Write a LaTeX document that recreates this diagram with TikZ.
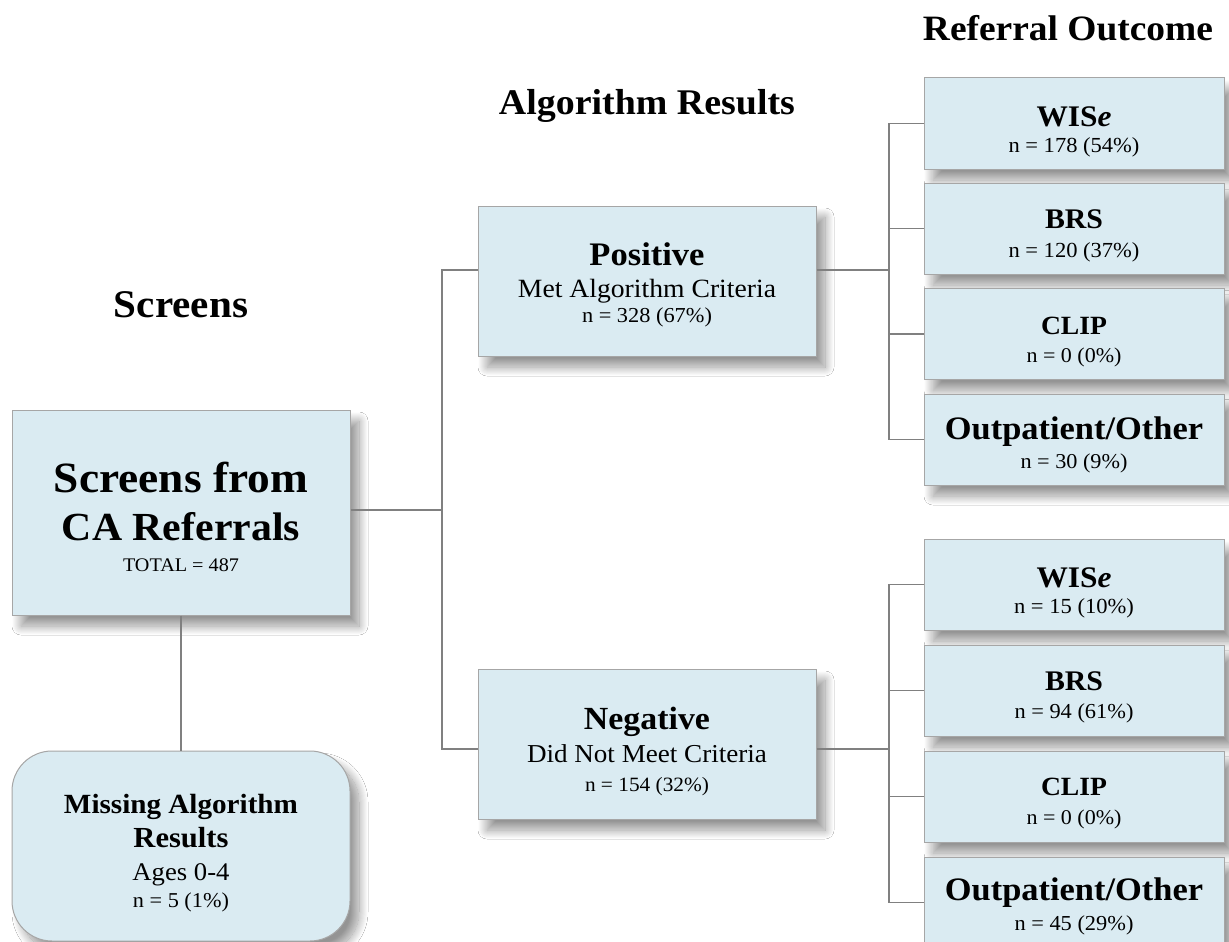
\documentclass[tikz,border=0pt]{standalone}
\usepackage{fontspec}
\setmainfont{Liberation Serif}[FakeStretch=1.05]
\usepackage{graphicx}
\usetikzlibrary{shadows.blur}
\definecolor{boxfill}{HTML}{DAEBF2}
\definecolor{boxline}{HTML}{A6A6A6}
\definecolor{connline}{HTML}{808080}
\newcommand\tx[2]{\resizebox{#1pt}{!}{#2}}
\begin{document}
\begin{tikzpicture}[x=1pt,y=-1pt,
  box/.style={draw=boxline, line width=1pt, fill=boxfill, inner sep=0pt,
    blur shadow={shadow xshift=9pt, shadow yshift=-11pt, shadow blur radius=9pt, shadow blur steps=18, shadow opacity=42}},
  conn/.style={draw=connline, line width=1.2pt},
  txt/.style={anchor=base, inner sep=0pt}]
\useasboundingbox (0,0) rectangle (1229,942);
\fill[white] (0,0) rectangle (1229,942);

% boxes
\node[box, minimum width=338pt, minimum height=205pt] (scr) at (181,512.5) {};
\node[box, rounded corners=40pt, minimum width=338pt, minimum height=190pt] (miss) at (181,846) {};
\node[box, minimum width=338pt, minimum height=150pt] (pos) at (647,281) {};
\node[box, minimum width=338pt, minimum height=150pt] (neg) at (647,744) {};
\node[box, minimum width=300pt, minimum height=91pt] (w1) at (1074,123.5) {};
\node[box, minimum width=300pt, minimum height=91pt] (b1) at (1074,228.5) {};
\node[box, minimum width=300pt, minimum height=91pt] (c1) at (1074,334) {};
\node[box, minimum width=300pt, minimum height=91pt] (o1) at (1074,439.5) {};
\node[box, minimum width=300pt, minimum height=91pt] (w2) at (1074,584.5) {};
\node[box, minimum width=300pt, minimum height=91pt] (b2) at (1074,690.5) {};
\node[box, minimum width=300pt, minimum height=91pt] (c2) at (1074,796.5) {};
\node[box, minimum width=300pt, minimum height=91pt] (o2) at (1074,902.5) {};

% junctions
\coordinate (j1) at (442,510);
\coordinate (j2) at (889,270);
\coordinate (j3) at (889,749);

% connectors
\draw[conn] (scr.east |- j1) -- (j1);
\draw[conn] ([yshift=11pt]pos.west) -| (j1) |- ([yshift=-5pt]neg.west);
\draw[conn] (scr.south) -- (miss.north);
\draw[conn] ([yshift=11pt]pos.east) -- (j2);
\draw[conn] (w1.west) -| (j2) |- (o1.west);
\draw[conn] (b1.west) -- (b1.west -| j2);
\draw[conn] (c1.west) -- (c1.west -| j2);
\draw[conn] ([yshift=-5pt]neg.east) -- (j3);
\draw[conn] (w2.west) -| (j3) |- (o2.west);
\draw[conn] (b2.west) -- (b2.west -| j3);
\draw[conn] (c2.west) -- (c2.west -| j3);

% headings
\node[txt] (hRO) at (1068,41) {\tx{290}{\bfseries Referral Outcome}};
\node[txt] (hAR) at (647,114) {\tx{296}{\bfseries Algorithm Results}};
\node[txt] (hSC) at (181,317) {\tx{134}{\bfseries Screens}};

% screens box
\node[txt] (s1) at (181,492) {\tx{254}{\bfseries Screens from}};
\node[txt] (s2) at (181,540) {\tx{238}{\bfseries CA Referrals}};
\node[txt] (s3) at (181,571) {\tx{116}{TOTAL = 487}};

% missing box
\node[txt] (m1) at (181,813) {\tx{234}{\bfseries Missing Algorithm}};
\node[txt] (m2) at (181,847) {\tx{95}{\bfseries Results}};
\node[txt] (m3) at (181,880) {\tx{97}{Ages 0-4}};
\node[txt] (m4) at (181,907) {\tx{96}{n = 5 (1\%)}};

% positive / negative
\node[txt] (p1) at (647,265) {\tx{115}{\bfseries Positive}};
\node[txt] (p2) at (647,297) {\tx{258}{Met Algorithm Criteria}};
\node[txt] (p3) at (647,322) {\tx{130}{n = 328 (67\%)}};
\node[txt] (n1) at (647,729) {\tx{126}{\bfseries Negative}};
\node[txt] (n2) at (647,762) {\tx{240}{Did Not Meet Criteria}};
\node[txt] (n3) at (647,791) {\tx{124}{n = 154 (32\%)}};

% outcomes, positive branch
\node[txt] (w1a) at (1074,126) {\tx{75}{\bfseries WIS\textit{e}}};
\node[txt] (w1b) at (1074,152) {\tx{131}{n = 178 (54\%)}};
\node[txt] (b1a) at (1074,228) {\tx{58}{\bfseries BRS}};
\node[txt] (b1b) at (1074,257) {\tx{131}{n = 120 (37\%)}};
\node[txt] (c1a) at (1074,334) {\tx{66}{\bfseries CLIP}};
\node[txt] (c1b) at (1074,362) {\tx{95}{n = 0 (0\%)}};
\node[txt] (o1a) at (1074,439) {\tx{258}{\bfseries Outpatient/Other}};
\node[txt] (o1b) at (1074,468) {\tx{107}{n = 30 (9\%)}};

% outcomes, negative branch
\node[txt] (w2a) at (1074,587) {\tx{75}{\bfseries WIS\textit{e}}};
\node[txt] (w2b) at (1074,613) {\tx{120}{n = 15 (10\%)}};
\node[txt] (b2a) at (1074,690) {\tx{58}{\bfseries BRS}};
\node[txt] (b2b) at (1074,718) {\tx{119}{n = 94 (61\%)}};
\node[txt] (c2a) at (1074,795) {\tx{66}{\bfseries CLIP}};
\node[txt] (c2b) at (1074,824) {\tx{95}{n = 0 (0\%)}};
\node[txt] (o2a) at (1074,900) {\tx{258}{\bfseries Outpatient/Other}};
\node[txt] (o2b) at (1074,930) {\tx{119}{n = 45 (29\%)}};
\end{tikzpicture}
\end{document}
